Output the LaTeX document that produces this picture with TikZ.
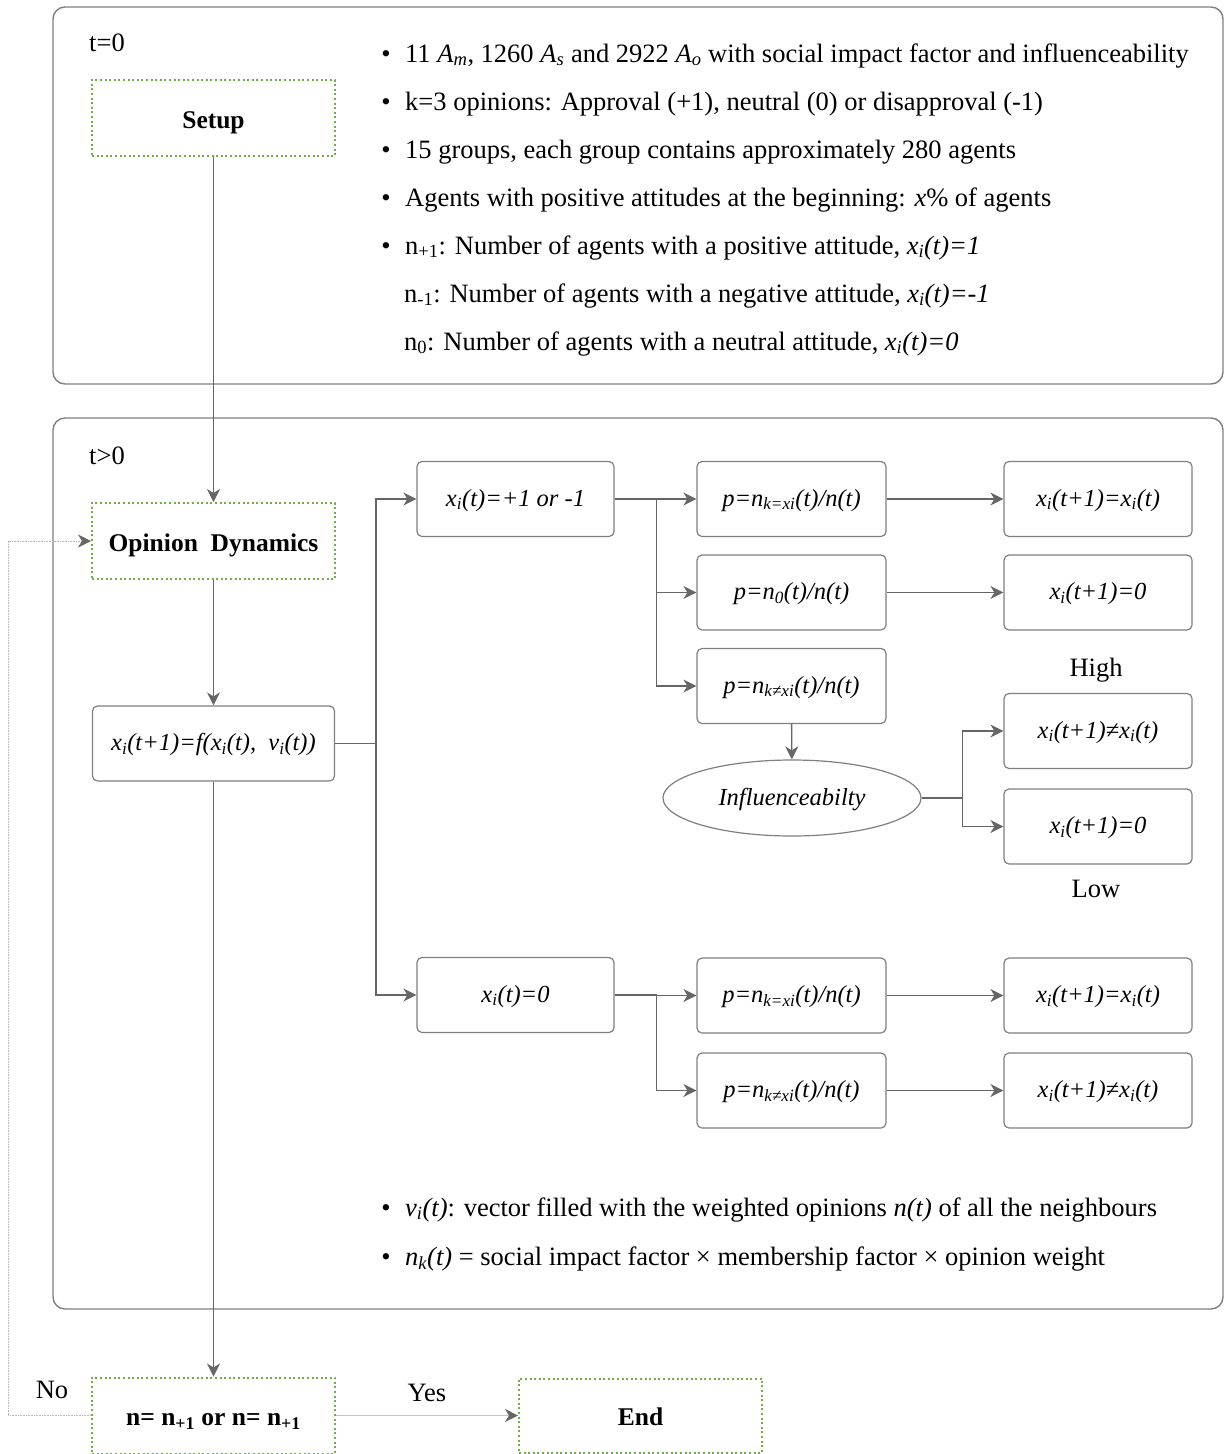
\documentclass[tikz,border=0pt]{standalone}
\usepackage{fontspec}
\setmainfont{Liberation Serif}
\usetikzlibrary{shapes.geometric,arrows.meta}
\definecolor{boxgreen}{HTML}{70AD47}
\definecolor{linegray}{HTML}{666666}
\definecolor{panelgray}{HTML}{7F7F7F}
\newcommand{\sub}[1]{\textsubscript{#1}}
\tikzset{
  tip/.style={-{Stealth[length=13pt,width=13pt,inset=4pt,color=linegray]}},
  flow/.style={draw=linegray, line width=1.4pt, tip},
  panel/.style={draw=panelgray, rounded corners=12pt, line width=1.4pt},
  stage/.style={draw=boxgreen, line width=2pt, dash pattern=on 2pt off 2.6pt,
    minimum width=243pt, minimum height=76pt, inner sep=0pt,
    text height=20pt, text depth=0pt,
    font=\bfseries\fontsize{25.5}{30}\selectfont},
  calc/.style={draw=panelgray, rounded corners=5pt, line width=1.2pt, fill=white,
    minimum height=75pt, inner sep=0pt, text height=19pt, text depth=5pt,
    font=\itshape\fontsize{24.5}{28}\selectfont},
  colA/.style={calc, minimum width=197pt},
  colP/.style={calc, minimum width=189pt},
  colR/.style={calc, minimum width=188pt},
  body/.style={anchor=base west, inner sep=0pt, font=\fontsize{26.5}{30}\selectfont},
  dot/.style={anchor=base, inner sep=0pt, font=\fontsize{26.5}{30}\selectfont},
  label/.style={inner sep=0pt, font=\fontsize{26.5}{30}\selectfont},
}
\begin{document}
\begin{tikzpicture}[x=1pt,y=-1pt]
\useasboundingbox (0,0) rectangle (1224,1454);

% the two stages of the simulation
\draw[panel] (53,7) rectangle (1223,384);
\draw[panel] (53,418) rectangle (1223,1309);
\node[body] (tzero) at (89,51) {t=0};
\node[body] (tpos) at (89,464) {t>0};

% initial conditions
\node[dot] (b1) at (386,62) {•};
\node[body] (s1) at (405,62) {11 \textit{A}\sub{\textit{m}}, 1260 \textit{A}\sub{\textit{s}} and 2922 \textit{A}\sub{\textit{o}} with social impact factor and influenceability};
\node[dot] (b2) at (386,110) {•};
\node[body] (s2) at (405,110) {k=3 opinions: Approval (+1), neutral (0) or disapproval (-1)};
\node[dot] (b3) at (386,158) {•};
\node[body] (s3) at (405,158) {15 groups, each group contains approximately 280 agents};
\node[dot] (b4) at (386,206) {•};
\node[body] (s4) at (405,206) {Agents with positive attitudes at the beginning: \textit{x}\% of agents};
\node[dot] (b5) at (386,254) {•};
\node[body] (s5) at (405,254) {n\sub{+1}: Number of agents with a positive attitude, \textit{x\sub{i}(t)=1}};
\node[body] (s6) at (404,302) {n\sub{-1}: Number of agents with a negative attitude, \textit{x\sub{i}(t)=-1}};
\node[body] (s7) at (404,350) {n\sub{0}: Number of agents with a neutral attitude, \textit{x\sub{i}(t)=0}};

% main loop
\node[stage] (setup) at (213.5,118) {Setup};
\node[stage] (od) at (213.5,541) {Opinion\ \ Dynamics};
\node[calc, minimum width=242pt] (upd) at (213.5,743.5) {x\sub{i}(t+1)=f(x\sub{i}(t),\ \ v\sub{i}(t))};
\node[stage] (check) at (213.5,1415.5) {n= n\sub{+1} or n= n\sub{+1}};
\node[stage, minimum height=74pt] (finish) at (640.5,1415.5) {End};

% current opinion +1 or -1
\node[colA] (pm) at (515.5,499) {x\sub{i}(t)=+1 or -1};
\node[colP] (p1) at (791.5,499) {p=n\sub{k=xi}(t)/n(t)};
\node[colP] (p2) at (791.5,592.5) {p=n\sub{0}(t)/n(t)};
\node[colP] (p3) at (791.5,686) {p=n\sub{k≠xi}(t)/n(t)};
\node[colR] (r1) at (1098,499) {x\sub{i}(t+1)=x\sub{i}(t)};
\node[colR] (r2) at (1098,592.5) {x\sub{i}(t+1)=0};
\node[ellipse, draw=panelgray, line width=1.2pt, minimum width=258pt, minimum height=76pt,
  inner sep=0pt, text height=19pt, text depth=5pt,
  font=\itshape\fontsize{24.5}{28}\selectfont] (infl) at (792,798) {Influenceabilty};
\node[colR] (r3) at (1098,731) {x\sub{i}(t+1)≠x\sub{i}(t)};
\node[colR] (r4) at (1098,826.5) {x\sub{i}(t+1)=0};
\node[label] (high) at (1096,670) {High};
\node[label] (low) at (1096,889) {Low};

% current opinion 0
\node[colA] (zero) at (515.5,995) {x\sub{i}(t)=0};
\node[colP] (p4) at (791.5,995.5) {p=n\sub{k=xi}(t)/n(t)};
\node[colP] (p5) at (791.5,1090.5) {p=n\sub{k≠xi}(t)/n(t)};
\node[colR] (r5) at (1098,995.5) {x\sub{i}(t+1)=x\sub{i}(t)};
\node[colR] (r6) at (1098,1090.5) {x\sub{i}(t+1)≠x\sub{i}(t)};

% notes on the update rule
\node[dot] (b6) at (386,1216) {•};
\node[body] (s8) at (405,1216) {\textit{v\sub{i}(t)}: vector filled with the weighted opinions \textit{n(t)} of all the neighbours};
\node[dot] (b7) at (386,1265) {•};
\node[body] (s9) at (405,1265) {\textit{n\sub{k}(t)} = social impact factor × membership factor × opinion weight};

% connectors
\draw[flow] (setup) -- (od);
\draw[flow] (od) -- (upd);
\draw[flow] (upd) -- (check);
\draw[flow] (upd.east) -- ++(41,0) coordinate (fork) |- (pm.west);
\draw[flow] (fork) |- (zero.west);
\draw[flow] (pm.east) -- ++(42,0) coordinate (forkA) |- (p1.west);
\draw[flow] (forkA) |- (p2.west);
\draw[flow] (forkA) |- (p3.west);
\draw[flow] (p1) -- (r1);
\draw[flow] (p2) -- (r2);
\draw[flow] (p3) -- (infl);
\draw[flow] (infl.east) -- ++(41,0) coordinate (forkI) |- (r3.west);
\draw[flow] (forkI) |- (r4.west);
\draw[flow] (zero.east) -- ++(42,0) coordinate (forkZ) |- (p4.west);
\draw[flow] (forkZ) |- (p5.west);
\draw[flow] (p4) -- (r5);
\draw[flow] (p5) -- (r6);
\draw[draw=gray!45, line width=1.4pt, tip] (check) -- (finish)
  node[label, midway, above=13pt] (yes) {Yes};
\draw[draw=gray!55, line width=0.9pt, dash pattern=on 1pt off 0.6pt, tip]
  (check.west) -- ++(-83,0) |- (od.west);
\node[label] (no) at (52,1390) {No};
\end{tikzpicture}
\end{document}
